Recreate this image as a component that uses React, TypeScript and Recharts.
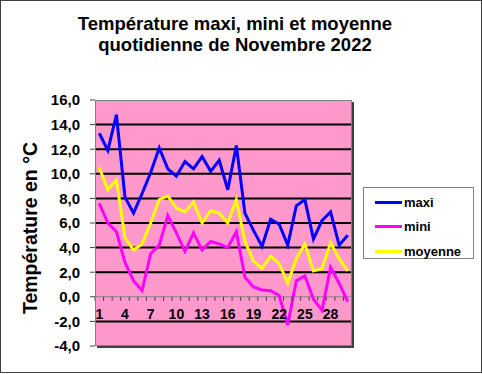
import React from "react";
import { ComposedChart, Line, XAxis, YAxis, CartesianGrid, ReferenceLine } from "recharts";

const days = Array.from({ length: 30 }, (_, i) => String(i + 1));
const maxi = [13.3, 11.9, 14.8, 8.1, 6.8, 8.4, 10.1, 12.1, 10.4, 9.8, 11.0, 10.4, 11.4, 10.2, 11.1, 8.7, 12.3, 6.8, 5.4, 4.1, 6.3, 5.9, 4.2, 7.4, 7.9, 4.7, 6.2, 6.9, 4.2, 5.0];
const mini = [7.6, 6.0, 5.3, 2.8, 1.3, 0.5, 3.5, 4.2, 6.6, 5.2, 3.7, 5.2, 3.8, 4.5, 4.3, 4.0, 5.3, 1.6, 0.8, 0.55, 0.5, 0.1, -2.3, 1.3, 1.7, -0.2, -1.1, 2.4, 1.1, -0.4];
const moyenne = [10.5, 8.7, 9.5, 4.8, 3.8, 4.3, 6.0, 7.9, 8.2, 7.2, 6.9, 7.7, 6.0, 7.0, 6.8, 6.0, 7.9, 4.5, 2.9, 2.3, 3.3, 2.7, 1.1, 3.1, 4.3, 2.1, 2.3, 4.4, 3.1, 2.1];
const yTicks = [-4, -2, 0, 2, 4, 6, 8, 10, 12, 14, 16];
const gridValues = [-2, 2, 4, 6, 8, 10, 12, 14];

const series = [
  { key: "maxi", name: "maxi", color: "#0000FF" },
  { key: "mini", name: "mini", color: "#FF00FF" },
  { key: "moyenne", name: "moyenne", color: "#FFFF00" },
];

const data = days.map((d, i) => ({ day: d, maxi: maxi[i], mini: mini[i], moyenne: moyenne[i] }));

const W = 482;
const H = 374;
const TOP = 100;
const LEFT = 95;
const RIGHT = 352;
const BOTTOM = 346;
const PLOT_W = RIGHT - LEFT;
const PLOT_H = BOTTOM - TOP;
const Y_MIN = -4;
const Y_MAX = 16;
const FONT = "Arial, 'Liberation Sans', sans-serif";

const XTick = (props: any) => {
  const { x, payload, index } = props;
  const zeroY = TOP + (PLOT_H * (Y_MAX - 0)) / (Y_MAX - Y_MIN);
  const bw = PLOT_W / days.length;
  return (
    <g>
      {index === 0 && <line x1={x - bw / 2} x2={x - bw / 2} y1={zeroY} y2={zeroY + 4} stroke="#404040" />}
      <line x1={x + bw / 2} x2={x + bw / 2} y1={zeroY} y2={zeroY + 4} stroke="#404040" />
      {index % 3 === 0 && (
        <text x={x} y={zeroY + 22} textAnchor="middle" fontFamily={FONT} fontWeight="bold" fontSize={14} fill="#000">
          {payload.value}
        </text>
      )}
    </g>
  );
};

export default function App() {
  return (
    <div
      style={{
        position: "absolute",
        left: 0,
        top: 0,
        width: W,
        height: H,
        background: "#fff",
        fontFamily: FONT,
      }}
    >
      <div
        style={{
          position: "absolute",
          left: 0,
          top: 13,
          width: 470,
          textAlign: "center",
          fontSize: 18.5,
          fontWeight: "bold",
          lineHeight: "21px",
        }}
      >
        Température maxi, mini et moyenne
        <br />
        quotidienne de Novembre 2022
      </div>
      <ComposedChart
        width={W}
        height={H}
        data={data}
        margin={{ top: TOP, left: LEFT - 60, right: W - RIGHT, bottom: 0 }}
      >
        <CartesianGrid horizontal={false} vertical={false} fill="#FF99CC" />
        <XAxis
          dataKey="day"
          scale="band"
          height={H - BOTTOM}
          interval={0}
          axisLine={false}
          tickLine={false}
          tick={<XTick />}
        />
        <YAxis
          width={60}
          domain={[Y_MIN, Y_MAX]}
          ticks={yTicks}
          interval={0}
          axisLine={false}
          tickSize={5}
          tickMargin={10}
          tickLine={{ stroke: "#404040" }}
          tickFormatter={(v: number) => v.toFixed(1).replace(".", ",")}
          tick={{ fill: "#000", fontSize: 15, fontWeight: "bold", fontFamily: FONT }}
          label={{
            value: "Température en °C",
            angle: -90,
            position: "insideLeft",
            offset: -5,
            dy: 5,
            style: { textAnchor: "middle", fontSize: 19.5, fontWeight: "bold", fill: "#000", fontFamily: FONT },
          }}
        />
        {gridValues.map((v) => (
          <ReferenceLine key={v} y={v} stroke="#000" strokeWidth={2} />
        ))}
        <ReferenceLine y={0} stroke="#808080" strokeWidth={1} />
        {series.map((s) => (
          <Line
            key={s.key}
            dataKey={s.key}
            name={s.name}
            type="linear"
            stroke={s.color}
            strokeWidth={3}
            dot={false}
            isAnimationActive={false}
          />
        ))}
      </ComposedChart>
      <div
        style={{
          position: "absolute",
          left: LEFT,
          top: TOP,
          width: PLOT_W,
          height: PLOT_H,
          boxSizing: "border-box",
          border: "1px solid #808080",
          boxShadow: "2px 2px 0 #404040",
          pointerEvents: "none",
        }}
      />
      <div
        style={{
          position: "absolute",
          left: 363,
          top: 187,
          width: 111,
          height: 72,
          boxSizing: "border-box",
          border: "1px solid #808080",
          background: "#fff",
          paddingTop: 2,
        }}
      >
        {series.map((s) => (
          <div key={s.key} style={{ display: "flex", alignItems: "center", height: 24.5, paddingLeft: 11 }}>
            <div style={{ width: 27, height: 3, background: s.color }} />
            <span style={{ marginLeft: 2, fontSize: 13, fontWeight: "bold" }}>{s.name}</span>
          </div>
        ))}
      </div>
      <div
        style={{
          position: "absolute",
          left: 0,
          top: 0,
          width: W,
          height: H - 1,
          boxSizing: "border-box",
          border: "1px solid #404040",
          pointerEvents: "none",
        }}
      />
    </div>
  );
}
